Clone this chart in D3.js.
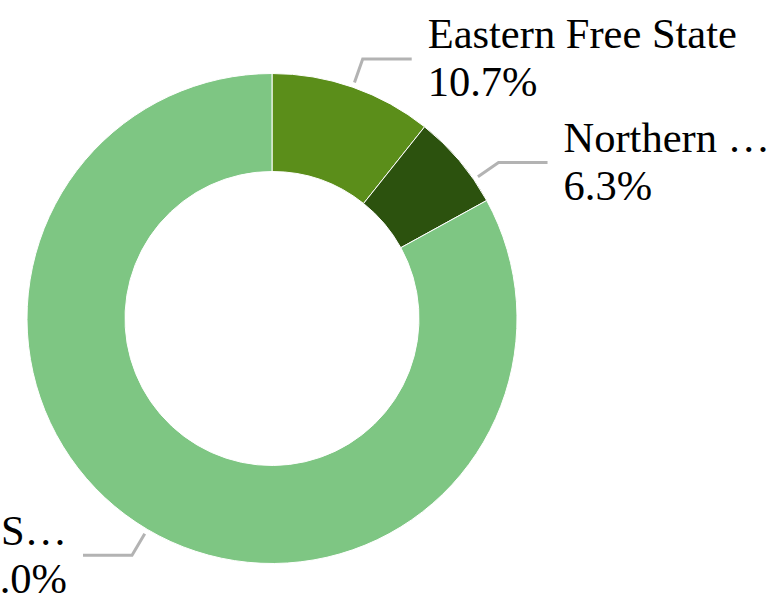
<!DOCTYPE html>
<html>
<head>
<meta charset="utf-8">
<script src="https://cdn.jsdelivr.net/npm/d3@7"></script>
<style>
  html, body { margin: 0; padding: 0; background: #fff; }
  svg { display: block; }
</style>
</head>
<body>
<svg id="chart" width="770" height="594"></svg>
<script>
// Share of total by region
const categories = ["Eastern Free State", "Northern …", "S…"];
const values = [10.7, 6.3, 83.0];
const valueLabels = ["10.7%", "6.3%", "83.0%"];
const colors = ["#5b8e1a", "#2c520e", "#7ec683"];

const width = 770, height = 594;
const cx = 272, cy = 318.5;
const outerR = 245, innerR = 147;

// leader-line geometry
const leaderStart = 250, leaderElbow = 275, leaderRun = 49, labelGap = 16;
// small angular nudges (degrees) so leaders clear neighbouring labels
const leaderNudge = [0, 5.6, 0];

const svg = d3.select("#chart");
const g = svg.append("g").attr("transform", `translate(${cx},${cy})`);

const pie = d3.pie().sort(null).value(d => d.value);
const arc = d3.arc().innerRadius(innerR).outerRadius(outerR);

const data = categories.map((c, i) => ({
  name: c, value: values[i], label: valueLabels[i], color: colors[i], nudge: leaderNudge[i]
}));
const arcs = pie(data);

g.selectAll("path.slice")
  .data(arcs)
  .join("path")
  .attr("class", "slice")
  .attr("d", arc)
  .attr("fill", d => d.data.color)
  .attr("stroke", "#ffffff")
  .attr("stroke-width", 1);

const polar = (r, a) => [r * Math.sin(a), -r * Math.cos(a)];

arcs.forEach(d => {
  const a = (d.startAngle + d.endAngle) / 2 + d.data.nudge * Math.PI / 180;
  const p0 = polar(leaderStart, a);
  const p1 = polar(leaderElbow, a);
  const right = Math.sin(a) >= 0;
  const p2 = [p1[0] + (right ? leaderRun : -leaderRun), p1[1]];

  g.append("polyline")
    .attr("points", [p0, p1, p2].map(p => p.join(",")).join(" "))
    .attr("fill", "none")
    .attr("stroke", "#b3b3b3")
    .attr("stroke-width", 3);

  const tx = p2[0] + (right ? labelGap : -labelGap);
  const t = g.append("text")
    .attr("x", tx)
    .attr("y", p2[1])
    .attr("text-anchor", right ? "start" : "end")
    .style("font-family", '"Liberation Serif"')
    .style("font-size", "42.5px")
    .style("fill", "#000");
  t.append("tspan").attr("x", tx).attr("dy", -10.5).text(d.data.name);
  t.append("tspan").attr("x", tx).attr("dy", 48).text(d.data.label);
});
</script>
</body>
</html>
